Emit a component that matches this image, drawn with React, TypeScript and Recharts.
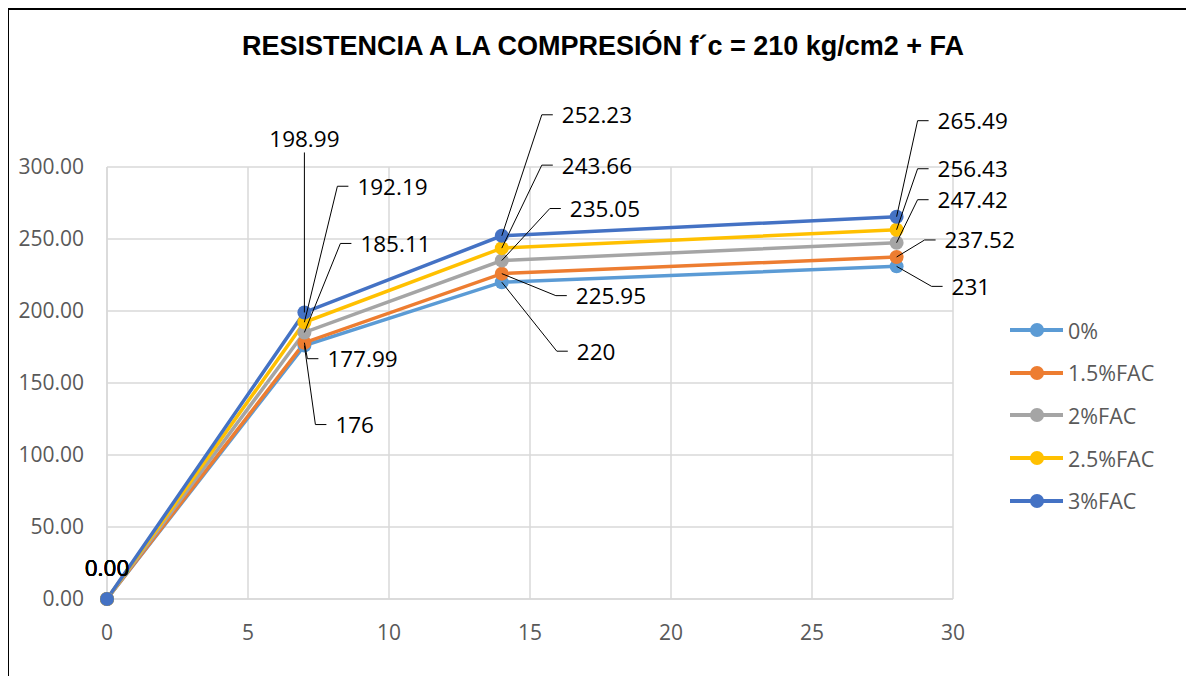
import React from "react"
import { LineChart, Line, XAxis, YAxis, CartesianGrid, LabelList } from "recharts"

// ages (days) and compressive strength per mix
const ages = [0, 7, 14, 28]
const seriesNames = ["0%", "1.5%FAC", "2%FAC", "2.5%FAC", "3%FAC"]
const fac0 = [0, 176, 220, 231]
const fac15 = [0, 177.99, 225.95, 237.52]
const fac2 = [0, 185.11, 235.05, 247.42]
const fac25 = [0, 192.19, 243.66, 256.43]
const fac3 = [0, 198.99, 252.23, 265.49]
const xTicks = [0, 5, 10, 15, 20, 25, 30]
const yTicks = [0, 50, 100, 150, 200, 250, 300]

const seriesValues = [fac0, fac15, fac2, fac25, fac3]
const colors = ["#5B9BD5", "#ED7D31", "#A5A5A5", "#FFC000", "#4472C4"]

// where each data label sits relative to its point: [dx to text left (0 = centred), dy to text middle]
const labelOffsets = [
    [[0, -32], [31, 79], [75, 69], [55, 20]],
    [[0, -32], [23, 16], [74, 22], [48, -17]],
    [[0, -32], [56, -89], [68, -52], [41, -43]],
    [[0, -32], [53, -136], [60, -83], [41, -61]],
    [[0, -32], [0, -174], [60, -121], [41, -96]],
]

const data = ages.map((age, i) => {
    const row: Record<string, number> = { age }
    seriesValues.forEach((vals, s) => { row["s" + s] = vals[i] })
    return row
})

const FONT = "'Open Sans', 'Noto Sans', sans-serif"

const fmt = (v: number) => (v === 0 ? "0.00" : String(v))

const makeLabel = (s: number) => (props: any) => {
    const px = props.x ?? props.viewBox?.x
    const py = props.y ?? props.viewBox?.y
    const index = props.index
    if (px == null || py == null) return null
    const [dx, dy] = labelOffsets[s][index]
    const ty = py + dy
    const text = fmt(Number(props.value))
    if (dx === 0) {
        return (
            <g key={`lbl-${s}-${index}`}>
                {index > 0 && <line x1={px} y1={ty + 14} x2={px} y2={py} stroke="#000" strokeWidth={1} />}
                <text x={px} y={ty} textAnchor="middle" dominantBaseline="central" fontSize={22.5} fontFamily={FONT} fill="#000">{text}</text>
            </g>
        )
    }
    const tx = px + dx
    return (
        <g key={`lbl-${s}-${index}`}>
            <polyline points={`${px},${py} ${tx - 20},${ty} ${tx - 9},${ty}`} fill="none" stroke="#000" strokeWidth={1} />
            <text x={tx} y={ty} textAnchor="start" dominantBaseline="central" fontSize={22.5} fontFamily={FONT} fill="#000">{text}</text>
        </g>
    )
}

export default function App() {
    return (
        <div style={{ position: "relative", width: 1186, height: 668, overflow: "hidden" }}>
            <div style={{ position: "absolute", left: -1, top: 0, width: 1200, height: 700, borderLeft: "2px solid #000", borderTop: "2px solid #000", boxSizing: "border-box", pointerEvents: "none" }} />
            <div style={{ position: "absolute", left: 0, top: 23, width: 1190, textAlign: "center", fontFamily: "'Liberation Sans', Arial, sans-serif", fontWeight: "bold", fontSize: 27, lineHeight: "31px", color: "#000" }}>
                RESISTENCIA A LA COMPRESIÓN f´c = 210 kg/cm2 + FA
            </div>
            <LineChart width={1186} height={668} data={data} margin={{ top: 159, right: 241, left: 0, bottom: 47 }}>
                <CartesianGrid stroke="#D9D9D9" strokeWidth={1.5} />
                <XAxis
                    dataKey="age"
                    type="number"
                    domain={[0, 30]}
                    ticks={xTicks}
                    axisLine={{ stroke: "#D9D9D9", strokeWidth: 1.5 }}
                    tickLine={false}
                    tickSize={0}
                    tickMargin={26}
                    height={30}
                    tick={{ fill: "#595959", fontSize: 21, fontFamily: FONT }}
                />
                <YAxis
                    type="number"
                    domain={[0, 300]}
                    ticks={yTicks}
                    axisLine={{ stroke: "#D9D9D9", strokeWidth: 1.5 }}
                    tickLine={false}
                    tickSize={0}
                    tickMargin={23}
                    width={99}
                    tickFormatter={(v: number) => v.toFixed(2)}
                    tick={{ fill: "#595959", fontSize: 21, fontFamily: FONT }}
                />
                {seriesNames.map((name, s) => (
                    <Line
                        key={name}
                        name={name}
                        dataKey={"s" + s}
                        stroke={colors[s]}
                        strokeWidth={3.5}
                        dot={{ r: 7, fill: colors[s], stroke: colors[s], strokeWidth: 0 }}
                        isAnimationActive={false}
                    >
                        <LabelList dataKey={"s" + s} content={makeLabel(s)} />
                    </Line>
                ))}
            </LineChart>
            <div style={{ position: "absolute", left: 1002, top: 301, fontFamily: FONT, fontSize: 21.5, color: "#595959" }}>
                {seriesNames.map((name, s) => (
                    <div key={name} style={{ display: "flex", alignItems: "center", height: 42.6 }}>
                        <svg width={58} height={20} style={{ marginRight: 0 }}>
                            <line x1={0} y1={10} x2={53} y2={10} stroke={colors[s]} strokeWidth={4} />
                            <circle cx={27} cy={10} r={7} fill={colors[s]} />
                        </svg>
                        <span>{name}</span>
                    </div>
                ))}
            </div>
        </div>
    )
}
